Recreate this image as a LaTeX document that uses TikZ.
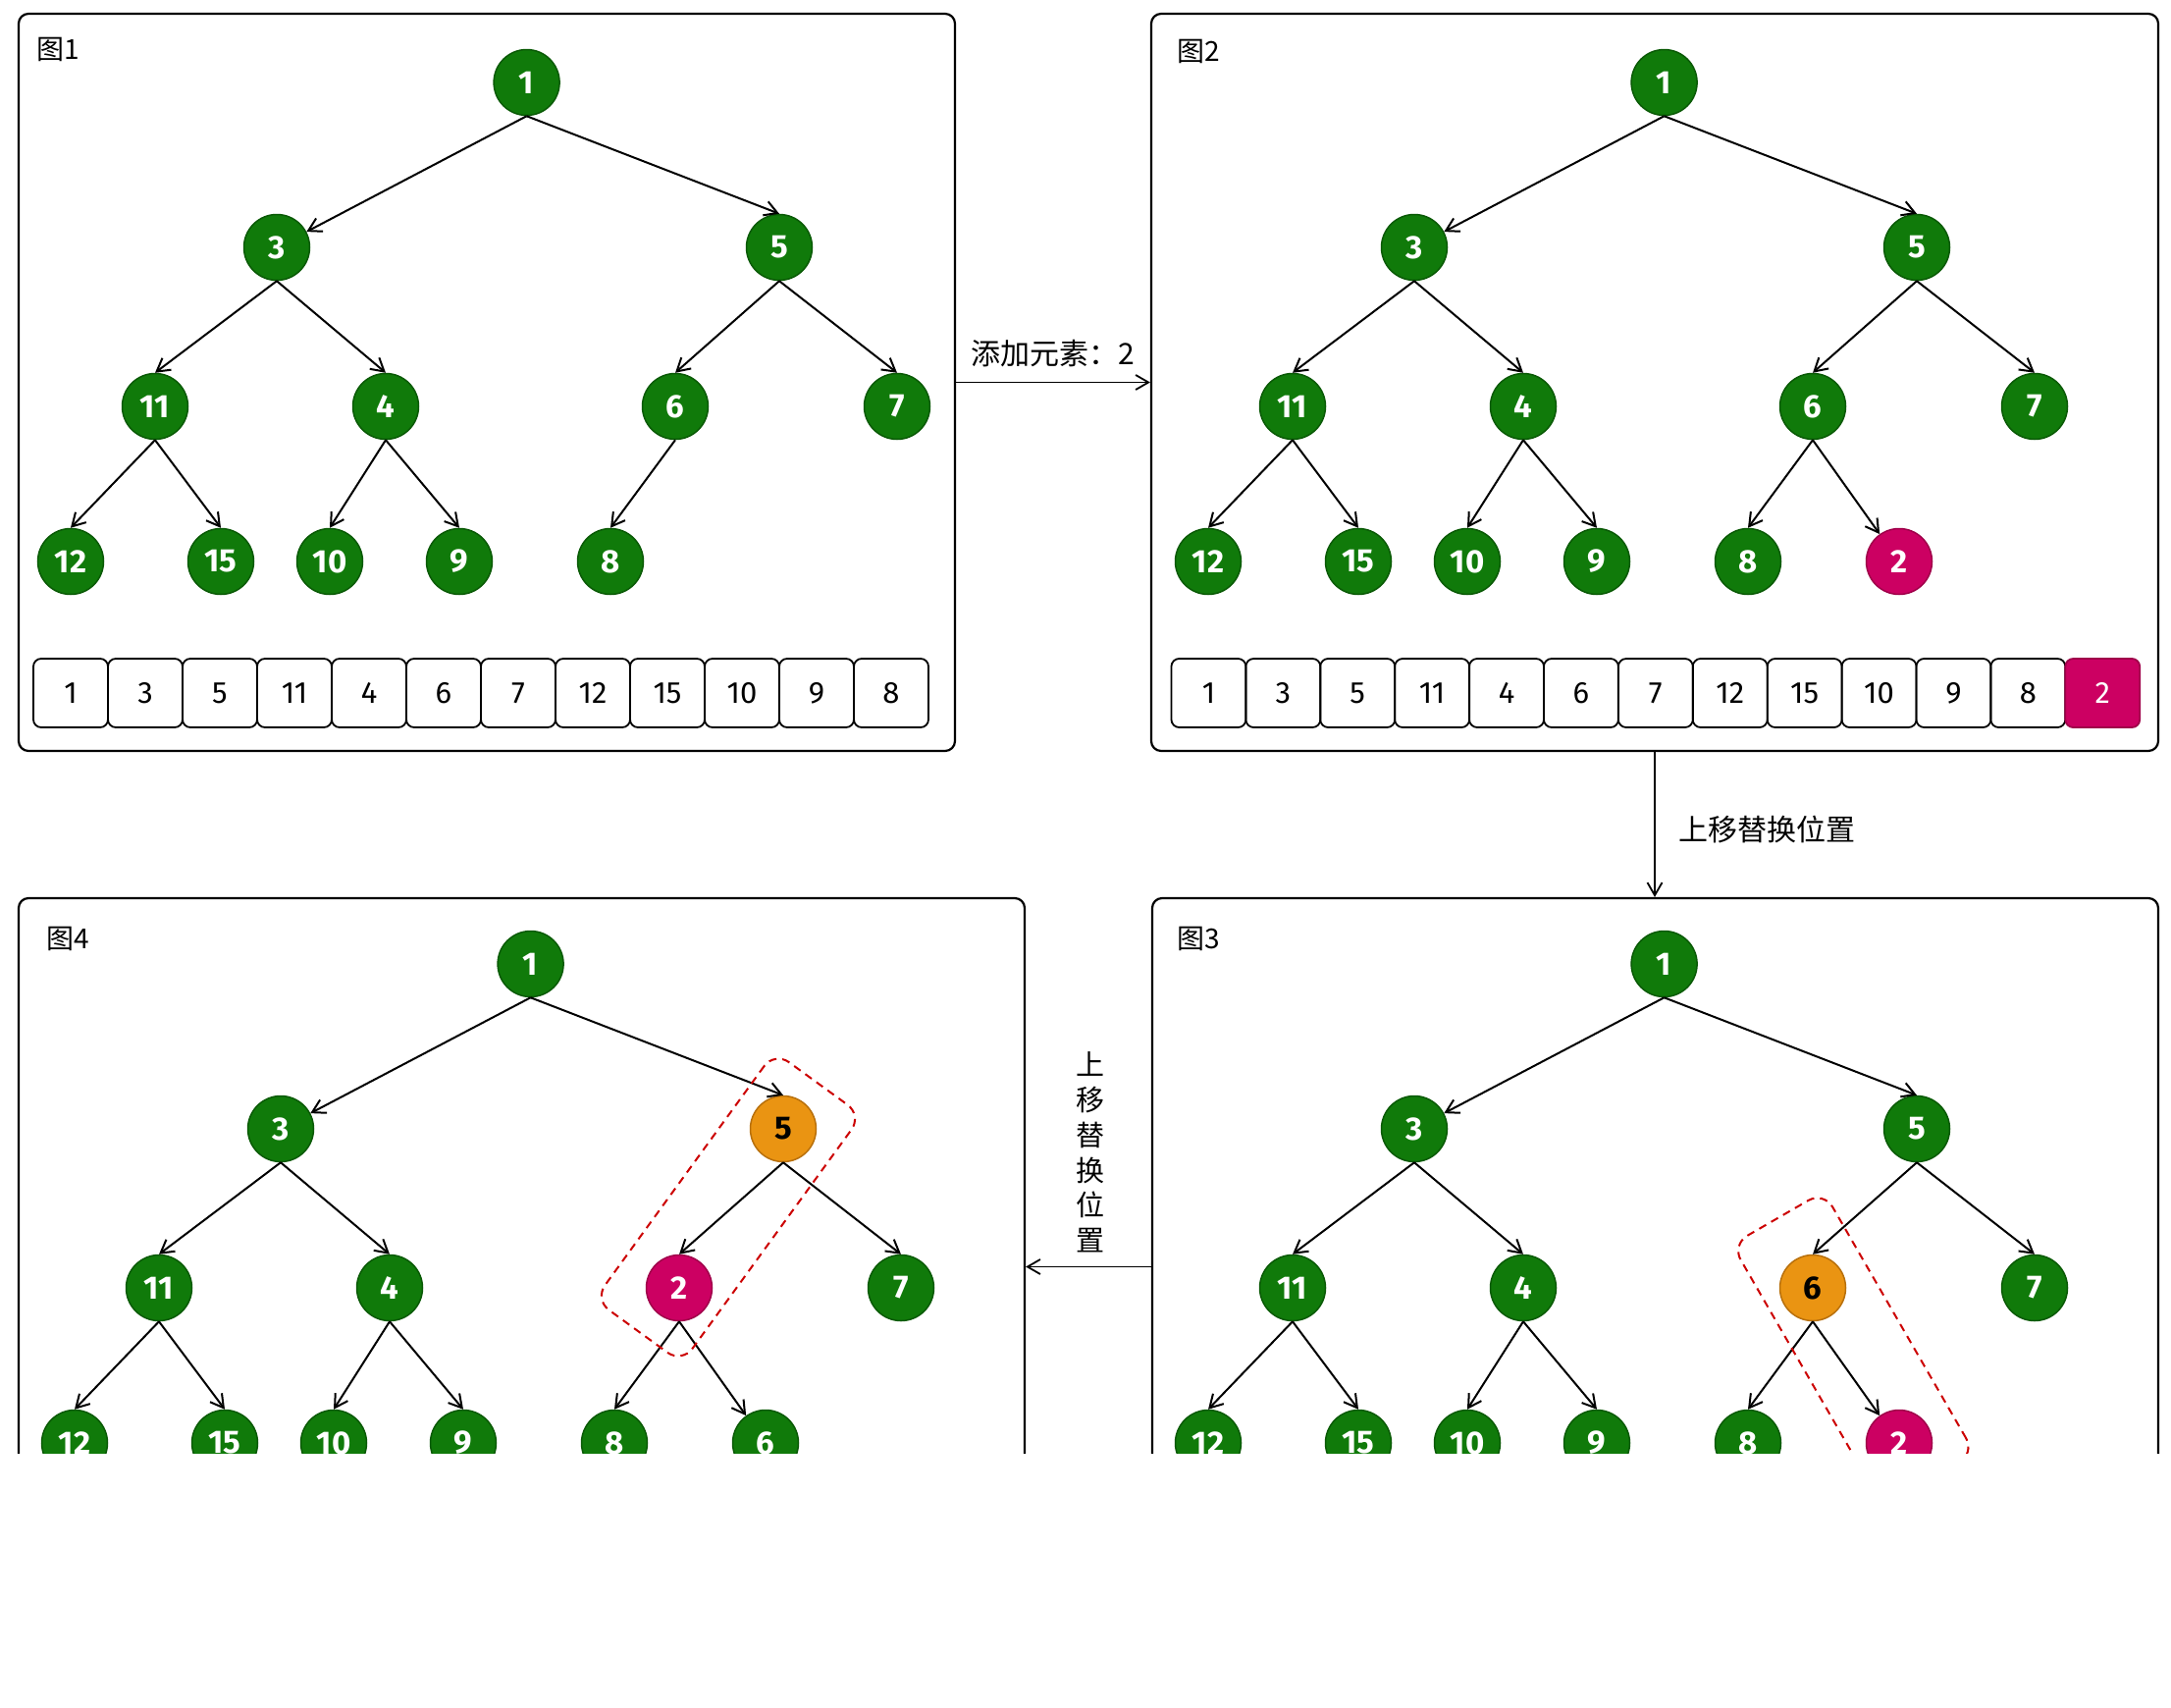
\documentclass[tikz,border=0pt]{standalone}
\usepackage{fontspec}
\setmainfont{Fira Sans}
\newfontfamily\cjk{Noto Sans CJK SC}
\usetikzlibrary{arrows.meta,calc}

\definecolor{heapgreen}{HTML}{107A0A}
\definecolor{heapgreenline}{HTML}{0A5A06}
\definecolor{heappink}{HTML}{CC0062}
\definecolor{heappinkline}{HTML}{A0004A}
\definecolor{heaporange}{HTML}{EA9412}
\definecolor{heaporangeline}{HTML}{B8700C}
\definecolor{zonered}{HTML}{CC0000}

\tikzset{
  key/.style={circle, minimum size=67pt, inner sep=0pt, line width=1.5pt,
    font=\fontsize{33}{33}\selectfont\bfseries},
  gkey/.style={key, fill=heapgreen, draw=heapgreenline, text=white},
  pkey/.style={key, fill=heappink, draw=heappinkline, text=white},
  okey/.style={key, fill=heaporange, draw=heaporangeline, text=black},
  link/.style={line width=2pt, -{Straight Barb[length=13pt,width=15pt]}},
  flow/.style={line width=1.8pt, -{Straight Barb[length=13pt,width=15pt]}},
  panel/.style={draw, line width=2.2pt, rounded corners=10pt, inner sep=0pt,
    minimum height=751pt},
  cell/.style={draw, line width=1.8pt, rounded corners=8pt, minimum width=76pt,
    minimum height=70pt, inner sep=0pt, font=\fontsize{31}{31}\selectfont},
  pcell/.style={cell, fill=heappink, draw=heappinkline, text=white},
  tag/.style={anchor=west, inner sep=0pt, font=\cjk\fontsize{28}{28}\selectfont},
  caption/.style={inner sep=0pt, font=\cjk\fontsize{30}{36}\selectfont},
  zone/.style={draw=zonered, dash pattern=on 8pt off 6pt, line width=2pt,
    rounded corners=18pt, inner sep=0pt},
}

\begin{document}
\begin{tikzpicture}[x=1pt,y=-1pt]
\fill[white] (0,0) rectangle (2212,1740);
\useasboundingbox (0,0) rectangle (2212,1740);

\begin{scope}
\clip (0,0) rectangle (2212,1480);

% ---- panels ----
\node[panel, minimum width=954pt]  (fig1) at (496,389.5) {};
\node[panel, minimum width=1026pt] (fig2) at (1686,389.5) {};
\node[panel, minimum width=1025pt] (fig3) at (1686.5,1290.5) {};
\node[panel, minimum width=1025pt] (fig4) at (531.5,1290.5) {};

\node[tag] (t1) at (37,50) {图1};
\node[tag] (t2) at (1199,52) {图2};
\node[tag] (t3) at (1199,956) {图3};
\node[tag] (t4) at (47,956) {图4};

% ---- heap 1 ----
\node[gkey] (a1)  at (536.6,84) {1};
\node[gkey] (a3)  at (282,252) {3};
\node[gkey] (a5)  at (794,252) {5};
\node[gkey] (a11) at (158,414) {11};
\node[gkey] (a4)  at (393,414) {4};
\node[gkey] (a6)  at (688,414) {6};
\node[gkey] (a7)  at (914,414) {7};
\node[gkey] (a12) at (72,572) {12};
\node[gkey] (a15) at (225,572) {15};
\node[gkey] (a10) at (336,572) {10};
\node[gkey] (a9)  at (468,572) {9};
\node[gkey] (a8)  at (622,572) {8};
\draw[link] (a1.south) -- (a3);
\foreach \p/\c in {1/5,3/11,3/4,5/6,5/7,11/12,11/15,4/10,4/9,6/8}
  \draw[link] (a\p.south) -- (a\c.north);
\foreach \v [count=\i from 0] in {1,3,5,11,4,6,7,12,15,10,9,8}
  \node[cell] (ac\i) at (72+76*\i,706) {\v};

% ---- heap 2 ----
\begin{scope}[shift={(1159,0)}]
\node[gkey] (b1)  at (536.6,84) {1};
\node[gkey] (b3)  at (282,252) {3};
\node[gkey] (b5)  at (794,252) {5};
\node[gkey] (b11) at (158,414) {11};
\node[gkey] (b4)  at (393,414) {4};
\node[gkey] (b6)  at (688,414) {6};
\node[gkey] (b7)  at (914,414) {7};
\node[gkey] (b12) at (72,572) {12};
\node[gkey] (b15) at (225,572) {15};
\node[gkey] (b10) at (336,572) {10};
\node[gkey] (b9)  at (468,572) {9};
\node[gkey] (b8)  at (622,572) {8};
\node[pkey] (b2)  at (776,572) {2};
\end{scope}
\draw[link] (b1.south) -- (b3);
\draw[link] (b6.south) -- (b2);
\foreach \p/\c in {1/5,3/11,3/4,5/6,5/7,11/12,11/15,4/10,4/9,6/8}
  \draw[link] (b\p.south) -- (b\c.north);
\foreach \v [count=\i from 0] in {1,3,5,11,4,6,7,12,15,10,9,8}
  \node[cell] (bc\i) at (1231.45+75.9*\i,706) {\v};
\node[pcell, minimum width=75.9pt] (bc12) at (1231.45+75.9*12,706) {2};

% ---- heap 3 ----
\begin{scope}[shift={(1159,898)}]
\node[gkey] (c1)  at (536.6,84) {1};
\node[gkey] (c3)  at (282,252) {3};
\node[gkey] (c5)  at (794,252) {5};
\node[gkey] (c11) at (158,414) {11};
\node[gkey] (c4)  at (393,414) {4};
\node[okey] (c6)  at (688,414) {6};
\node[gkey] (c7)  at (914,414) {7};
\node[gkey] (c12) at (72,572) {12};
\node[gkey] (c15) at (225,572) {15};
\node[gkey] (c10) at (336,572) {10};
\node[gkey] (c9)  at (468,572) {9};
\node[gkey] (c8)  at (622,572) {8};
\node[pkey] (c2)  at (776,572) {2};
\end{scope}
\draw[link] (c1.south) -- (c3);
\draw[link] (c6.south) -- (c2);
\foreach \p/\c in {1/5,3/11,3/4,5/6,5/7,11/12,11/15,4/10,4/9,6/8}
  \draw[link] (c\p.south) -- (c\c.north);
\node[zone, rotate=-60, minimum width=308pt, minimum height=108pt]
  (z3) at ($(c6)!0.413!(c2)+(5,-3)$) {};

% ---- heap 4 ----
\begin{scope}[shift={(4,898)}]
\node[gkey] (d1)  at (536.6,84) {1};
\node[gkey] (d3)  at (282,252) {3};
\node[okey] (d5)  at (794,252) {5};
\node[gkey] (d11) at (158,414) {11};
\node[gkey] (d4)  at (393,414) {4};
\node[pkey] (d2)  at (688,414) {2};
\node[gkey] (d7)  at (914,414) {7};
\node[gkey] (d12) at (72,572) {12};
\node[gkey] (d15) at (225,572) {15};
\node[gkey] (d10) at (336,572) {10};
\node[gkey] (d9)  at (468,572) {9};
\node[gkey] (d8)  at (622,572) {8};
\node[gkey] (d6)  at (776,572) {6};
\end{scope}
\draw[link] (d1.south) -- (d3);
\draw[link] (d2.south) -- (d6);
\foreach \p/\c in {1/5,3/11,3/4,5/2,5/7,11/12,11/15,4/10,4/9,2/8}
  \draw[link] (d\p.south) -- (d\c.north);
\node[zone, rotate=54, minimum width=312pt, minimum height=110pt]
  (z4) at ($(d5)!0.5!(d2)+(-3,-1)$) {};

% ---- steps between the panels ----
\draw[flow] (fig1.east) -- (fig2.west);
\node[caption] (s1) at ($(fig1.east)!0.5!(fig2.west)+(0,-29.5)$) {添加元素：2};

\draw[flow] (fig2.south) -- (fig2.south |- fig3.north);
\node[caption, anchor=west] (s2) at (1710,845) {上移替换位置};

\draw[flow] (fig3.west) -- (fig4.east);
\node[caption, align=center, font=\cjk\fontsize{29}{35.8}\selectfont] (s3)
  at (1111,1174) {上\\移\\替\\换\\位\\置};
\end{scope}
\end{tikzpicture}
\end{document}
